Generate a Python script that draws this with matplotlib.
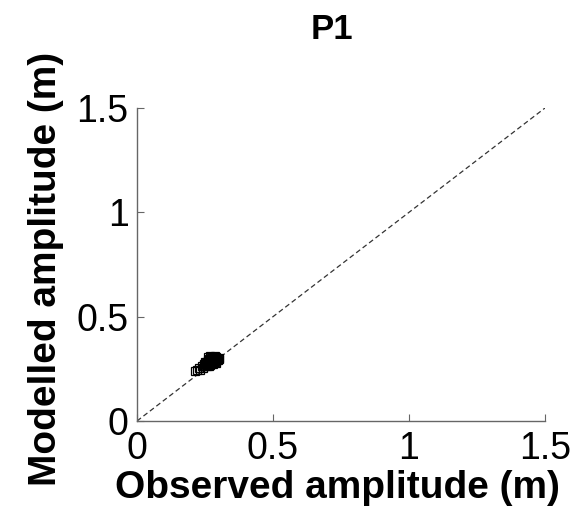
import matplotlib
matplotlib.use("Agg")
import matplotlib.pyplot as plt

plt.rcParams['font.family'] = ['Liberation Sans', 'DejaVu Sans']

obs = [0.215, 0.222, 0.228, 0.232, 0.238, 0.242, 0.245, 0.248, 0.252, 0.255,
       0.258, 0.260, 0.262, 0.265, 0.266, 0.268, 0.270, 0.272, 0.274, 0.276,
       0.278, 0.280, 0.282, 0.284, 0.286, 0.288, 0.290, 0.292, 0.295, 0.298,
       0.300, 0.303, 0.256, 0.262, 0.270, 0.278, 0.285, 0.250, 0.264, 0.292]
mod = [0.240, 0.245, 0.252, 0.246, 0.262, 0.255, 0.272, 0.265, 0.278, 0.268,
       0.285, 0.275, 0.292, 0.280, 0.298, 0.270, 0.288, 0.302, 0.282, 0.295,
       0.305, 0.276, 0.290, 0.300, 0.284, 0.296, 0.308, 0.288, 0.298, 0.292,
       0.304, 0.296, 0.262, 0.305, 0.310, 0.272, 0.312, 0.285, 0.265, 0.278]
line_x = [0, 1.5]
line_y = [0, 1.5]
ticks = [0, 0.5, 1, 1.5]
tick_labels = ['0', '0.5', '1', '1.5']

fig = plt.figure(figsize=(5.86, 5.14), dpi=100)
ax = fig.add_axes([137/586, 1 - 421/514, 408/586, 313/514])
ax.plot(line_x, line_y, linestyle=(0, (4, 2.5)), color='#333333', linewidth=0.9)
ax.plot(obs, mod, linestyle='none', marker='s', markersize=6, markerfacecolor='none',
        markeredgecolor='black', markeredgewidth=0.9)
ax.set_xlim(0, 1.5)
ax.set_ylim(0, 1.5)
ax.set_xticks(ticks)
ax.set_xticklabels(tick_labels)
ax.set_yticks(ticks)
ax.set_yticklabels(tick_labels)
for s in ['top', 'right']:
    ax.spines[s].set_visible(False)
for s in ['left', 'bottom']:
    ax.spines[s].set_color('#666666')
    ax.spines[s].set_linewidth(1.0)
ax.tick_params(direction='in', length=5, color='#666666', labelsize=27)
ax.tick_params(axis='x', pad=7)
ax.tick_params(axis='y', pad=6)
ax.set_xlabel('Observed amplitude (m)', fontsize=28, fontweight='bold')
ax.set_ylabel('Modelled amplitude (m)', fontsize=28, fontweight='bold')
ax.xaxis.set_label_coords((337.5 - 137) / 408, (421 - 470) / 313)
ax.yaxis.set_label_coords((64 - 137) / 408, (421 - 269) / 313)
fig.text(332 / 586, 1 - 39 / 514, 'P1', fontsize=25, fontweight='bold',
         ha='center', va='baseline')
fig.savefig('out.png', dpi=100)
